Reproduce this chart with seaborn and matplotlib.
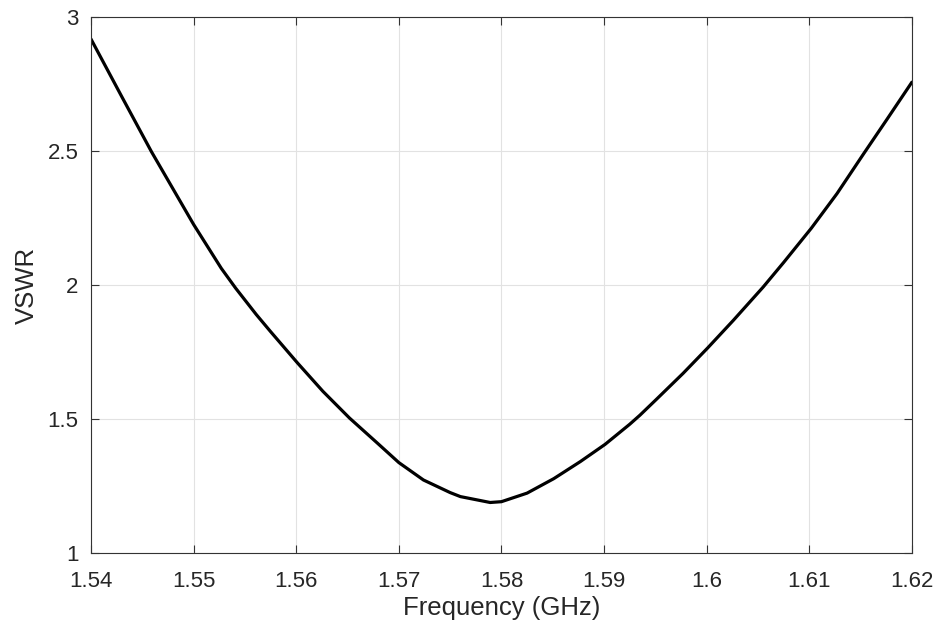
import matplotlib
matplotlib.use("Agg")
import matplotlib.pyplot as plt
import seaborn as sns
import pandas as pd

# valores (frecuencia en GHz, VSWR)
freq_ghz = [1.5400, 1.5430, 1.5459, 1.5482, 1.5500, 1.5527, 1.5541, 1.5561,
            1.5575, 1.5601, 1.5626, 1.5652, 1.5679, 1.5700, 1.5724, 1.5750,
            1.5760, 1.5789, 1.5800, 1.5825, 1.5851, 1.5877, 1.5901, 1.5925,
            1.5935, 1.5951, 1.5977, 1.6001, 1.6026, 1.6055, 1.6075, 1.6102,
            1.6127, 1.6153, 1.6176, 1.6200]
vswr = [2.918, 2.703, 2.497, 2.345, 2.226, 2.062, 1.988, 1.890,
        1.826, 1.710, 1.603, 1.503, 1.410, 1.337, 1.272, 1.225,
        1.210, 1.188, 1.191, 1.223, 1.277, 1.341, 1.405, 1.480,
        1.514, 1.573, 1.670, 1.765, 1.868, 1.992, 2.084, 2.212,
        2.341, 2.490, 2.620, 2.757]

x_ticks = [1.54, 1.55, 1.56, 1.57, 1.58, 1.59, 1.60, 1.61, 1.62]
x_labels = ["1.54", "1.55", "1.56", "1.57", "1.58", "1.59", "1.6", "1.61", "1.62"]
y_ticks = [1, 1.5, 2, 2.5, 3]
y_labels = ["1", "1.5", "2", "2.5", "3"]

df = pd.DataFrame({"freq": freq_ghz, "vswr": vswr})

sns.set_style("whitegrid")
plt.rcParams["font.family"] = ["Liberation Sans", "DejaVu Sans"]

fig = plt.figure(figsize=(9.43, 6.34), dpi=100)
ax = fig.add_axes([0.0965, 0.128, 0.8705, 0.845])

sns.lineplot(data=df, x="freq", y="vswr", ax=ax, color="black", linewidth=2.3)

ax.set_xlim(1.54, 1.62)
ax.set_ylim(1, 3)
ax.set_xticks(x_ticks)
ax.set_xticklabels(x_labels)
ax.set_yticks(y_ticks)
ax.set_yticklabels(y_labels)
ax.set_xlabel("Frequency (GHz)", fontsize=18.5, color="#262626", labelpad=3)
ax.set_ylabel("VSWR", fontsize=18.5, color="#262626", labelpad=6)

ax.grid(True, color="#e2e2e2", linewidth=0.8)
for s in ax.spines.values():
    s.set_visible(True)
    s.set_color("#333333")
    s.set_linewidth(0.8)
ax.tick_params(direction="in", length=6, width=0.8, color="#333333",
               labelsize=16, labelcolor="#262626",
               top=True, right=True, bottom=True, left=True)
ax.tick_params(axis="x", pad=13)
ax.tick_params(axis="y", pad=9)
ax.set_facecolor("white")

plt.savefig("out.png", dpi=100)
